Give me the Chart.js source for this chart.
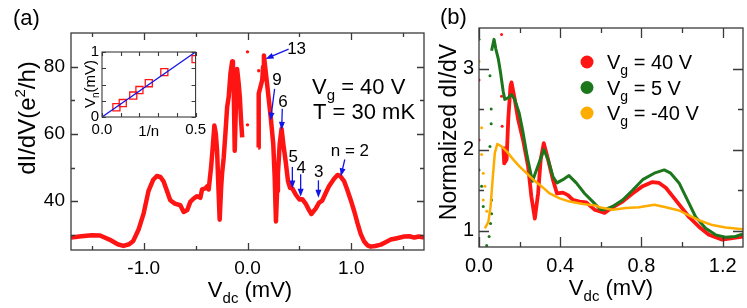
<!DOCTYPE html>
<html>
<head>
<meta charset="utf-8">
<script src="https://cdn.jsdelivr.net/npm/chart.js@4.4.0/dist/chart.umd.min.js"></script>
<style>
  body { margin: 0; background: #fff; width: 747px; height: 308px; overflow: hidden; position: relative; }
  canvas { position: absolute; top: 0; }
  #panelA { left: 0; }
  #panelB { left: 430px; }
  #inset { left: 60px; top: 40px; }
</style>
</head>
<body>
<canvas id="panelA" width="440" height="308"></canvas>
<canvas id="panelB" width="317" height="308"></canvas>
<canvas id="inset" width="150" height="105"></canvas>
<script>
// ---- panel (a): dI/dV vs Vdc at Vg = 40 V (two branches around the gap)
var aLeftV = [-1.70,-1.60,-1.50,-1.42,-1.33,-1.25,-1.195,-1.14,-1.10,-1.05,-1.00,-0.954,-0.91,-0.873,-0.84,-0.81,-0.775,-0.744,-0.70,-0.647,-0.615,-0.58,-0.551,-0.519,-0.486,-0.454,-0.438,-0.406,-0.39,-0.374,-0.351,-0.335,-0.319,-0.305,-0.293,-0.280,-0.268,-0.254,-0.245,-0.229,-0.213,-0.196,-0.181,-0.164,-0.148,-0.140,-0.132,-0.123,-0.112,-0.100,-0.085,-0.074,-0.062,-0.051];
var aLeftG = [29.2,29.6,29.9,29.8,28.6,27.2,26.7,27.2,28.2,31.5,36.4,43.0,46.3,47.5,47.2,46.0,43.0,40.3,39.3,38.8,36.8,37.4,39.8,40.8,41.5,41.0,43.5,43.8,44.4,43.5,50,56,62.5,60,55,44,34.5,44,48.2,53,60,68,71,78,81.5,78,72,55,68,79.3,75,71,64,59];
var aRightV = [0.103,0.106,0.110,0.125,0.142,0.150,0.158,0.170,0.19,0.222,0.248,0.262,0.274,0.285,0.293,0.310,0.328,0.345,0.367,0.39,0.410,0.432,0.464,0.50,0.528,0.56,0.59,0.615,0.657,0.69,0.72,0.75,0.786,0.834,0.867,0.89,0.93,0.96,0.995,1.03,1.06,1.09,1.124,1.155,1.188,1.23,1.285,1.33,1.38,1.44,1.51,1.56,1.607,1.65,1.70];
var aRightG = [56,62,72,74,76,80,83.3,80,74.5,65.5,57,47,34,43,48.2,57,61.5,57,52,46,44,43.8,42,40.5,40.6,39.3,37.5,36.2,37.8,39.6,40.2,42.2,44.5,46.7,47.8,47.6,46.0,43.5,40.3,36.8,33.4,30.3,28.0,26.9,26.5,26.7,27.1,27.8,28.6,29.0,29.5,29.6,29.2,29.5,29.2];
var aStrayV = [0.0, 0.0, 0.108, 0.112];
var aStrayG = [84.4, 62.7, 78.8, 62.0];

var aXTicks = [-1, 0, 1];
var aYTicks = [40, 60, 80];

// resonance labels n and arrows (data units)
var nLabels = ['13', '9', '6', '5', '4', '3', 'n = 2'];
var nTextAt = [[0.473,83.8],[0.283,74.4],[0.341,68.1],[0.44,51.7],[0.517,48.5],[0.686,47.2],[0.986,53.3]];
var nFrom = [[0.396,85.2],[0.261,73.4],[0.335,67.5],[0.432,50.2],[0.512,48.0],[0.683,46.2],[0.937,52.4]];
var nTo = [[0.174,82.3],[0.222,64.0],[0.329,61.2],[0.432,43.8],[0.512,41.3],[0.683,41.0],[0.899,47.4]];

// ---- inset: Vn vs 1/n
var insetInvN = [0.077, 0.111, 0.167, 0.2, 0.25, 0.333, 0.5];
var insetVn = [0.15, 0.215, 0.33, 0.415, 0.52, 0.69, 0.89];
var fitInvN = [0, 0.5];
var fitVn = [0, 1];

// ---- panel (b): normalized dI/dV for three gate voltages
var bRedV = [0.12,0.124,0.136,0.144,0.155,0.16,0.176,0.193,0.217,0.242,0.258,0.275,0.291,0.304,0.319,0.34,0.364,0.384,0.413,0.438,0.462,0.495,0.528,0.569,0.593,0.618,0.658,0.707,0.756,0.806,0.854,0.887,0.92,0.952,0.993,1.034,1.083,1.132,1.198,1.247,1.30];
var bRedG = [2.04,1.83,1.88,2.37,2.78,2.83,2.62,2.37,2.12,1.79,1.42,1.15,1.46,1.88,2.08,1.88,1.63,1.46,1.47,1.44,1.38,1.36,1.35,1.26,1.24,1.22,1.29,1.36,1.46,1.55,1.60,1.59,1.53,1.43,1.30,1.17,1.05,0.95,0.89,0.91,0.93];
var bGreenV = [0.062,0.074,0.083,0.095,0.106,0.119,0.127,0.144,0.16,0.176,0.198,0.217,0.237,0.263,0.283,0.319,0.34,0.364,0.384,0.413,0.443,0.479,0.52,0.56,0.60,0.618,0.658,0.707,0.756,0.806,0.863,0.912,0.944,0.985,1.026,1.067,1.116,1.165,1.214,1.263,1.30];
var bGreenG = [3.22,3.36,3.24,3.12,2.95,2.72,2.62,2.64,2.68,2.62,2.45,2.21,1.92,1.61,1.75,2.0,1.88,1.67,1.59,1.63,1.68,1.59,1.46,1.36,1.26,1.26,1.30,1.38,1.50,1.63,1.71,1.75,1.71,1.59,1.38,1.17,1.03,0.95,0.92,0.93,0.96];
var bOrangeV = [0.029,0.046,0.057,0.067,0.078,0.09,0.111,0.136,0.168,0.20,0.234,0.267,0.307,0.348,0.397,0.446,0.511,0.577,0.593,0.658,0.724,0.789,0.863,0.92,0.985,1.034,1.083,1.149,1.214,1.30];
var bOrangeG = [1.03,1.11,1.30,1.63,1.96,2.07,2.04,1.98,1.88,1.79,1.71,1.63,1.55,1.46,1.40,1.36,1.33,1.31,1.29,1.26,1.28,1.29,1.32,1.29,1.25,1.19,1.13,1.07,1.04,1.02];
var bRedStrayV = [0.0, 0.0, 0.111, 0.111, 0.114];
var bRedStrayG = [2.86, 2.12, 3.42, 2.66, 2.29];
var bGreenStrayV = [0.0, 0.054, 0.06, 0.06, 0.054, 0.0, 0.013, 0.021, 0.038, 0.05, 0.057, 0.062, 0.062];
var bGreenStrayG = [3.36, 2.91, 2.5, 2.32, 2.04, 1.75, 1.55, 1.3, 0.82, 0.93, 1.09, 1.21, 1.38];
var bOrangeStrayV = [0.0, 0.013, 0.013, 0.021, 0.029, 0.021, 0.038];
var bOrangeStrayG = [3.09, 2.27, 1.94, 1.71, 1.55, 1.38, 1.24];

var bXTicks = [0, 0.4, 0.8, 1.2];
var bYTicks = [1, 2, 3];
var gateNames = ['40 V', '5 V', '-40 V'];

var RED = 'rgb(255,20,20)', GREEN = 'rgb(28,118,28)', ORANGE = 'rgb(255,172,0)', BLUE = 'rgb(20,20,230)';
var FONT = '"Liberation Sans", Arial, Helvetica, sans-serif';
var FRAME = '#3a3a3a';

function pts(xs, ys) { return xs.map(function (x, i) { return {x: x, y: ys[i]}; }); }
function steps(a, b, s) { var out = []; for (var v = a; v <= b + 1e-9; v += s) out.push(+v.toFixed(4)); return out; }

// text with sub/superscripts: parts = [[text, size, dy], ...]
function rich(ctx, parts, x, y, align, rotate) {
    ctx.save();
    ctx.translate(x, y);
    if (rotate) ctx.rotate(-Math.PI / 2);
    ctx.fillStyle = '#000';
    ctx.textBaseline = 'alphabetic';
    ctx.textAlign = 'left';
    var w = 0;
    parts.forEach(function (p) { ctx.font = p[1] + 'px ' + FONT; w += ctx.measureText(p[0]).width; });
    var cx = align === 'center' ? -w / 2 : (align === 'right' ? -w : 0);
    parts.forEach(function (p) {
        ctx.font = p[1] + 'px ' + FONT;
        ctx.fillText(p[0], cx, p[2] || 0);
        cx += ctx.measureText(p[0]).width;
    });
    ctx.restore();
}

// box frame with inward ticks on all four sides
var frameTicks = {
    id: 'frameTicks',
    afterDatasetsDraw: function (chart, args, o) {
        var ctx = chart.ctx, a = chart.chartArea, sx = chart.scales.x, sy = chart.scales.y;
        ctx.save();
        ctx.strokeStyle = FRAME;
        ctx.lineWidth = o.lw;
        ctx.beginPath();
        function xt(vals, len) {
            vals.forEach(function (v) {
                var p = Math.round(sx.getPixelForValue(v)) + 0.5;
                ctx.moveTo(p, a.bottom); ctx.lineTo(p, a.bottom - len);
                ctx.moveTo(p, a.top); ctx.lineTo(p, a.top + len);
            });
        }
        function yt(vals, len) {
            vals.forEach(function (v) {
                var p = Math.round(sy.getPixelForValue(v)) + 0.5;
                ctx.moveTo(a.left, p); ctx.lineTo(a.left + len, p);
                ctx.moveTo(a.right, p); ctx.lineTo(a.right - len, p);
            });
        }
        xt(o.xMajor, o.major); xt(o.xMinor, o.minor);
        yt(o.yMajor, o.major); yt(o.yMinor, o.minor);
        ctx.stroke();
        ctx.strokeRect(a.left, a.top, a.right - a.left, a.bottom - a.top);
        ctx.restore();
    }
};

function axis(min, max, ticks, fmt, size, pad, fit) {
    return {
        type: 'linear', min: min, max: max,
        grid: {display: false, drawTicks: false},
        border: {display: false},
        afterBuildTicks: function (s) { s.ticks = ticks.map(function (v) { return {value: v}; }); },
        afterFit: fit,
        ticks: {font: {family: FONT, size: size}, color: '#000', padding: pad, maxRotation: 0, autoSkip: false, callback: fmt}
    };
}

// ---------- panel (a)
new Chart(document.getElementById('panelA'), {
    type: 'scatter',
    data: {
        datasets: [
            {data: pts(aStrayV, aStrayG), pointRadius: 1.7, backgroundColor: RED, borderWidth: 0},
            {data: pts(aLeftV, aLeftG), showLine: true, borderColor: RED, borderWidth: 4.5, pointRadius: 0, borderJoinStyle: 'round'},
            {data: pts(aRightV, aRightG), showLine: true, borderColor: RED, borderWidth: 4.5, pointRadius: 0, borderJoinStyle: 'round'}
        ]
    },
    options: {
        responsive: false, animation: false, events: [],
        layout: {padding: {left: 0, right: 16, top: 33, bottom: 0}},
        plugins: {
            legend: {display: false}, tooltip: {enabled: false},
            frameTicks: {lw: 1.3, major: 7, minor: 4, xMajor: aXTicks, xMinor: [-1.5, -0.5, 0.5, 1.5], yMajor: aYTicks, yMinor: [30, 50, 70]}
        },
        scales: {
            x: axis(-1.7, 1.7, aXTicks, function (v) { return v.toFixed(1); }, 19, 7, function (s) { s.height = 58; }),
            y: axis(25.5, 90, aYTicks, function (v) { return String(v); }, 19, 6, function (s) { s.width = 71; })
        }
    },
    plugins: [frameTicks, {
        id: 'notesA',
        afterDraw: function (chart) {
            var ctx = chart.ctx, sx = chart.scales.x, sy = chart.scales.y;
            nLabels.forEach(function (t, i) {
                var x0 = sx.getPixelForValue(nFrom[i][0]), y0 = sy.getPixelForValue(nFrom[i][1]);
                var x1 = sx.getPixelForValue(nTo[i][0]), y1 = sy.getPixelForValue(nTo[i][1]);
                var ang = Math.atan2(y1 - y0, x1 - x0);
                ctx.save();
                ctx.strokeStyle = BLUE; ctx.fillStyle = BLUE; ctx.lineWidth = 1.3;
                ctx.beginPath(); ctx.moveTo(x0, y0);
                ctx.lineTo(x1 - 5 * Math.cos(ang), y1 - 5 * Math.sin(ang)); ctx.stroke();
                ctx.beginPath(); ctx.moveTo(x1, y1);
                ctx.lineTo(x1 - 8 * Math.cos(ang) + 3 * Math.sin(ang), y1 - 8 * Math.sin(ang) - 3 * Math.cos(ang));
                ctx.lineTo(x1 - 8 * Math.cos(ang) - 3 * Math.sin(ang), y1 - 8 * Math.sin(ang) + 3 * Math.cos(ang));
                ctx.closePath(); ctx.fill();
                ctx.restore();
                rich(ctx, [[t, 17]], sx.getPixelForValue(nTextAt[i][0]), sy.getPixelForValue(nTextAt[i][1]), 'center');
            });
            rich(ctx, [['V', 22], ['g', 15, 6], [' = 40 V', 22]], 312, 94, 'left');
            rich(ctx, [['T = 30 mK', 22]], 313, 119, 'left');
            rich(ctx, [['(a)', 22]], 13, 25, 'left');
            rich(ctx, [['V', 22], ['dc', 15, 6], [' (mV)', 22]], 250, 297, 'center');
            rich(ctx, [['dI/dV(e', 24], ['2', 15, -10], ['/h)', 24]], 35, 118, 'center', true);
        }
    }]
});

// ---------- inset
new Chart(document.getElementById('inset'), {
    type: 'scatter',
    data: {
        datasets: [
            {data: pts(fitInvN, fitVn), showLine: true, borderColor: BLUE, borderWidth: 1.3, pointRadius: 0},
            {data: pts(insetInvN, insetVn), pointStyle: 'rect', pointRadius: 5, borderColor: RED, borderWidth: 1.3, backgroundColor: 'rgba(0,0,0,0)'}
        ]
    },
    options: {
        responsive: false, animation: false, events: [],
        layout: {padding: {left: 0, right: 13, top: 12, bottom: 0}},
        plugins: {
            legend: {display: false}, tooltip: {enabled: false},
            frameTicks: {lw: 1.1, major: 4, minor: 4, xMajor: steps(0, 0.5, 0.1), xMinor: [], yMajor: steps(0, 1, 0.25), yMinor: []}
        },
        scales: {
            x: axis(0, 0.5, [0, 0.5], function (v) { return v.toFixed(1); }, 15, 4, function (s) { s.height = 28; }),
            y: axis(0, 1, [0, 1], function (v) { return String(v); }, 15, 3, function (s) { s.width = 42; })
        }
    },
    plugins: [frameTicks, {
        id: 'notesInset',
        afterDraw: function (chart) {
            var ctx = chart.ctx;
            rich(ctx, [['1/n', 15]], chart.scales.x.getPixelForValue(0.25), 96, 'center');
            rich(ctx, [['V', 15], ['n', 10, 4], ['(mV)', 15]], 35, 44, 'center', true);
        }
    }]
});

// ---------- panel (b)
var bColors = [RED, GREEN, ORANGE];
new Chart(document.getElementById('panelB'), {
    type: 'scatter',
    data: {
        datasets: [
            {data: pts(bOrangeV, bOrangeG), showLine: true, borderColor: ORANGE, borderWidth: 2.5, pointRadius: 0, borderJoinStyle: 'round'},
            {data: pts(bGreenV, bGreenG), showLine: true, borderColor: GREEN, borderWidth: 3, pointRadius: 0, borderJoinStyle: 'round'},
            {data: pts(bRedV, bRedG), showLine: true, borderColor: RED, borderWidth: 3.8, pointRadius: 0, borderJoinStyle: 'round'},
            {data: pts(bOrangeStrayV, bOrangeStrayG), pointRadius: 1.5, backgroundColor: ORANGE, borderWidth: 0},
            {data: pts(bGreenStrayV, bGreenStrayG), pointRadius: 1.5, backgroundColor: GREEN, borderWidth: 0},
            {data: pts(bRedStrayV, bRedStrayG), pointRadius: 1.5, backgroundColor: RED, borderWidth: 0}
        ]
    },
    options: {
        responsive: false, animation: false, events: [],
        layout: {padding: {left: 0, right: 3, top: 28, bottom: 0}},
        plugins: {
            legend: {display: false}, tooltip: {enabled: false},
            frameTicks: {lw: 1.3, major: 10, minor: 5, xMajor: bXTicks, xMinor: [0.2, 0.6, 1.0], yMajor: bYTicks, yMinor: [1.5, 2.5]}
        },
        scales: {
            x: axis(0, 1.3, bXTicks, function (v) { return v.toFixed(1); }, 20, 7, function (s) { s.height = 61; }),
            y: axis(0.8, 3.5, bYTicks, function (v) { return String(v); }, 20, 5, function (s) { s.width = 49; })
        }
    },
    plugins: [frameTicks, {
        id: 'notesB',
        afterDraw: function (chart) {
            var ctx = chart.ctx;
            gateNames.forEach(function (g, i) {
                var y = 62 + i * 25.5;
                ctx.save();
                ctx.fillStyle = bColors[i];
                ctx.beginPath(); ctx.arc(157, y, 6.5, 0, 2 * Math.PI); ctx.fill();
                ctx.restore();
                rich(ctx, [['V', 20], ['g', 14, 6], [' = ' + g, 20]], 177, y + 7, 'left');
            });
            rich(ctx, [['(b)', 22]], 10, 24, 'left');
            rich(ctx, [['V', 22], ['dc', 15, 6], [' (mV)', 22]], 181, 295, 'center');
            rich(ctx, [['Normalized dI/dV', 23]], 26, 132, 'center', true);
        }
    }]
});
</script>
</body>
</html>
